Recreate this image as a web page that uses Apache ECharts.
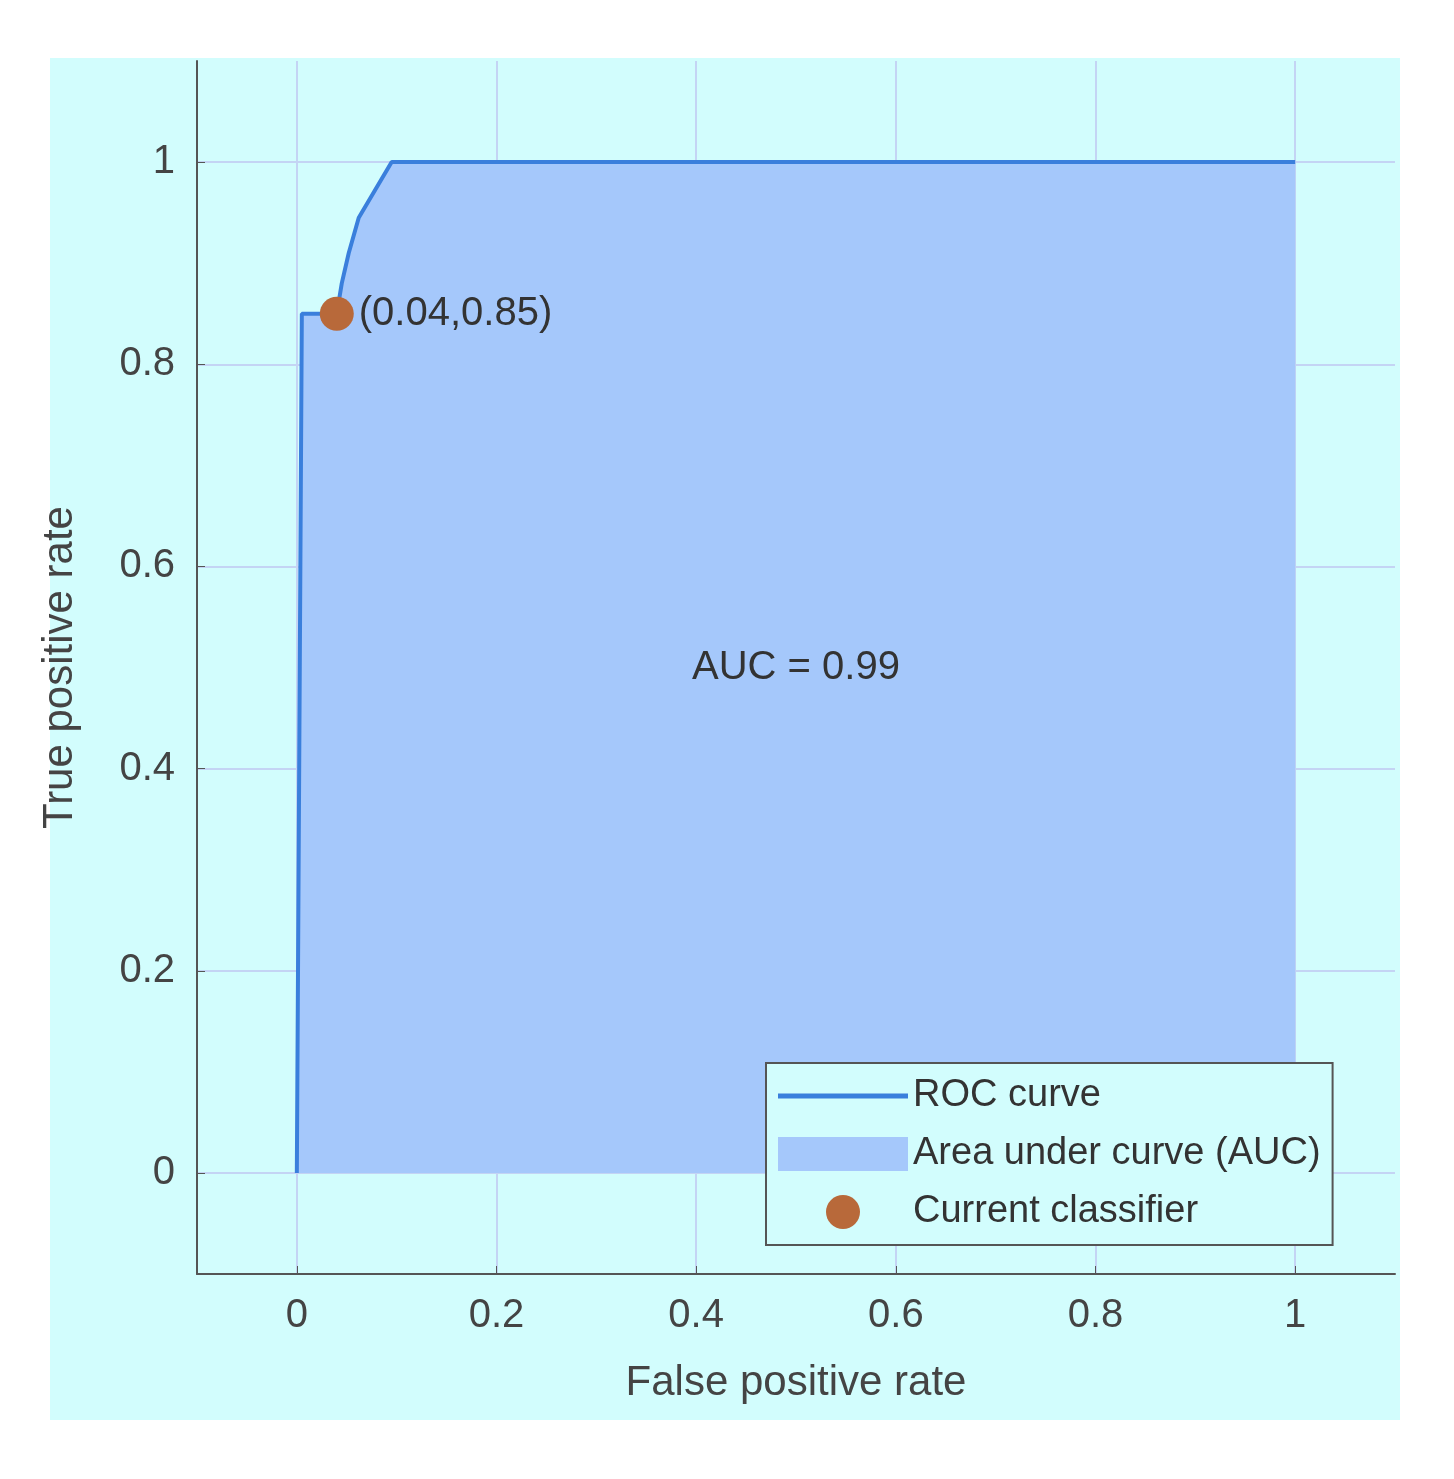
<!DOCTYPE html>
<html>
<head>
<meta charset="utf-8">
<script src="https://cdn.jsdelivr.net/npm/echarts@6/dist/echarts.min.js"></script>
<style>html,body{margin:0;background:#fff}</style>
</head>
<body>
<div id="roc" style="width:1454px;height:1479px"></div>
<script>
// ROC curve points
var fpr = [0, 0.005, 0.04, 0.045, 0.052, 0.062, 0.095, 1];
var tpr = [0, 0.85, 0.85, 0.88, 0.91, 0.945, 1, 1];
var classifier = [0.04, 0.85];
var tickValues = [0, 0.2, 0.4, 0.6, 0.8, 1];
var aucText = 'AUC = 0.99';

var curve = fpr.map(function (x, i) { return [x, tpr[i]]; });
var font = '"Liberation Sans", Arial, sans-serif';

function axis(name, gap) {
    return {
        type: 'value', min: -0.1, max: 1.1, name: name, nameLocation: 'middle', nameGap: gap,
        nameTextStyle: { fontFamily: font, fontSize: 42, color: '#444' },
        axisLine: { show: true, onZero: false, lineStyle: { color: '#555', width: 2 } },
        axisTick: { show: true, inside: true, length: 8, customValues: tickValues, lineStyle: { color: '#555' } },
        axisLabel: { customValues: tickValues, fontFamily: font, fontSize: 40, color: '#444', margin: 22,
            formatter: function (v) { return String(Math.round(v * 10) / 10); } },
        splitLine: { show: true, lineStyle: { color: '#c4d4f4', width: 2 } }
    };
}

var myChart = echarts.init(document.getElementById('roc'));
var option = {
    backgroundColor: '#fff',
    animation: false,
    graphic: [{ type: 'rect', z: -10, shape: { x: 50, y: 58, width: 1350, height: 1362 }, style: { fill: '#d2fdfd' } }],
    grid: { left: 197, top: 61, width: 1198, height: 1213 },
    xAxis: axis('False positive rate', 88),
    yAxis: axis('True positive rate', 116),
    legend: {
        orient: 'vertical', left: 766, top: 1063, itemWidth: 130, itemHeight: 34, itemGap: 20,
        padding: [14, 12, 14, 12], borderColor: '#555', borderWidth: 2, backgroundColor: '#d2fdfd',
        textStyle: { fontFamily: font, fontSize: 38, color: '#333' },
        data: [
            { name: 'ROC curve', icon: 'path://M0,0H130V5H0Z' },
            { name: 'Area under curve (AUC)', icon: 'rect' },
            { name: 'Current classifier', icon: 'circle' }
        ]
    },
    series: [
        {
            name: 'Area under curve (AUC)', type: 'line', data: curve, symbol: 'none', z: 1,
            lineStyle: { width: 0 }, itemStyle: { color: '#a5c8fb' },
            areaStyle: { color: '#a5c8fb', opacity: 1, origin: 0 }
        },
        {
            name: 'ROC curve', type: 'line', data: curve, symbol: 'none', z: 2,
            lineStyle: { color: '#3a7fdc', width: 4 }, itemStyle: { color: '#3a7fdc' },
            markPoint: {
                symbol: 'circle', symbolSize: 0, data: [{ coord: [0.5, 0.5], value: aucText }],
                label: { show: true, position: 'inside', formatter: aucText, fontFamily: font, fontSize: 40, color: '#333' }
            }
        },
        {
            name: 'Current classifier', type: 'scatter', data: [classifier], symbolSize: 34, z: 5,
            itemStyle: { color: '#b8693a', opacity: 1 },
            labelLayout: { hideOverlap: false },
            label: {
                show: true, position: 'right', offset: [4, 32], fontFamily: font, fontSize: 40, color: '#333',
                formatter: '(' + classifier[0] + ',' + classifier[1] + ')'
            }
        }
    ]
};
myChart.setOption(option, true);
</script>
</body>
</html>
